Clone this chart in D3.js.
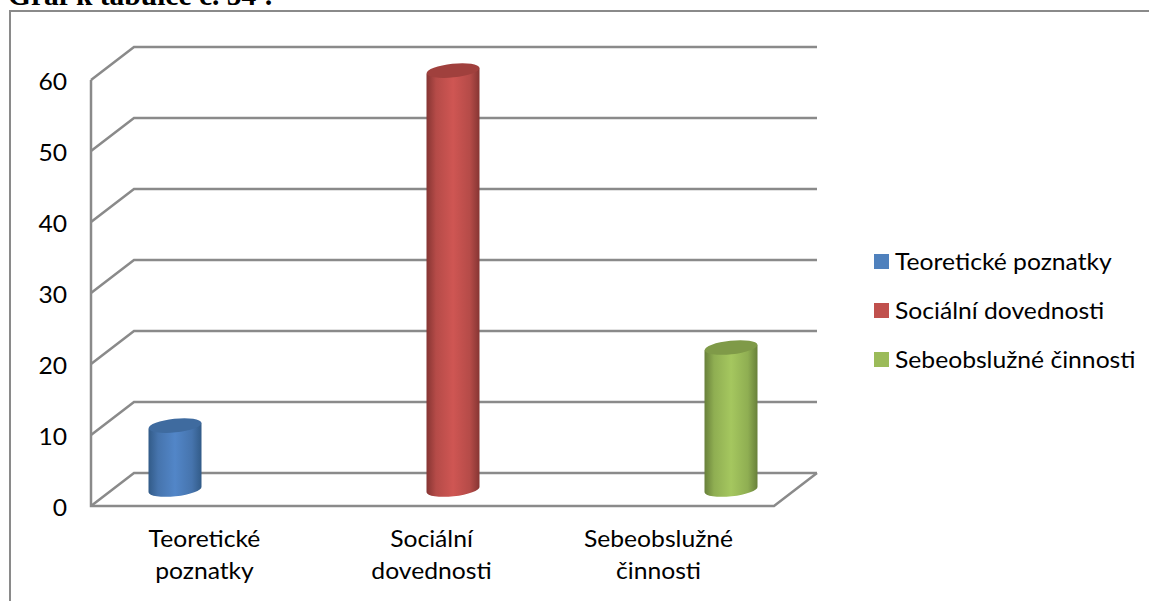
<!DOCTYPE html>
<html>
<head>
<meta charset="utf-8">
<script src="https://cdn.jsdelivr.net/npm/d3@7"></script>
<style>
  html, body { margin: 0; padding: 0; background: #fff; overflow: hidden; }
  text { font-family: Lato, "Open Sans", sans-serif; fill: #000; }
</style>
</head>
<body>
<svg id="chart-container"></svg>
<script>
// Values per category
const categories = [["Teoretické", "poznatky"], ["Sociální", "dovednosti"], ["Sebeobslužné", "činnosti"]];
const seriesNames = ["Teoretické poznatky", "Sociální dovednosti", "Sebeobslužné činnosti"];
const values = [9, 59, 20];
const yTicks = [0, 10, 20, 30, 40, 50, 60];
const heading = "Graf k tabulce č. 54 :";

// Colors: [edge of the cylinder, shoulder, middle of the cylinder, top cap, legend key]
const colors = [
  ["#325b88", "#4674ad", "#5286c8", "#3f6b9f", "#4f81bd"],
  ["#863533", "#b54b48", "#cf5653", "#a0403d", "#c0504d"],
  ["#68803a", "#8fae52", "#a5c75f", "#7f9a48", "#9bbb59"]
];

const svgWidth = 1149;
const svgHeight = 601;
const gridColor = "#8a8a8a";
const depth = { x: 43, y: -33 };
const floorRight = 774;
const barWidth = 53;
const capRx = 26.5;
const capRy = 6.8;
const capTilt = -6;
const labelSize = "23.5px";
const textStretch = "scale(1.05,1)";

const svg = d3.select("#chart-container")
  .attr("width", svgWidth)
  .attr("height", svgHeight)
  .style("display", "block");

// Scales
const xScale = d3.scaleBand()
  .domain(categories.map(d => d.join(" ")))
  .range([91, 772]);

const offsetScale = d3.scalePoint()
  .domain(seriesNames)
  .range([-51, 51]);

const yScale = d3.scaleLinear()
  .domain([0, 60])
  .range([506, 80]);

// Gradients for the cylinder walls
const defs = svg.append("defs");
colors.forEach((c, i) => {
  const grad = defs.append("linearGradient").attr("id", "wall" + i);
  [[0, 0], [18, 1], [50, 2], [82, 1], [100, 0]].forEach(s => {
    grad.append("stop").attr("offset", s[0] + "%").attr("stop-color", c[s[1]]);
  });
});

// Outer frame and heading
svg.append("path")
  .attr("d", "M10,601V11H1149")
  .attr("fill", "none")
  .attr("stroke", gridColor)
  .attr("stroke-width", 2);

svg.append("text")
  .attr("x", 8)
  .attr("y", 5)
  .style("font-family", "'Liberation Serif', serif")
  .style("font-weight", "bold")
  .style("font-size", "29.5px")
  .text(heading);

// Walls and floor
const grid = svg.append("g")
  .attr("fill", "none")
  .attr("stroke", gridColor)
  .attr("stroke-width", 2.5);

grid.selectAll("path")
  .data(yTicks)
  .enter().append("path")
  .attr("d", d => {
    const y = yScale(d);
    return `M91,${y}L${91 + depth.x},${y + depth.y}H${floorRight + depth.x}`;
  });

grid.append("path")
  .attr("d", `M91,${yScale(60)}V${yScale(0)}H${floorRight}L${floorRight + depth.x},${yScale(0) + depth.y}`);

// Y labels
svg.selectAll(".y-label")
  .data(yTicks)
  .enter().append("text")
  .attr("class", "y-label")
  .attr("text-anchor", "end")
  .attr("transform", d => `translate(67,${yScale(d) + 10}) ${textStretch}`)
  .style("font-size", labelSize)
  .text(d => d);

// Cylinders, standing in the middle of the floor depth
const bars = svg.selectAll(".bar")
  .data(values)
  .enter().append("g")
  .attr("class", "bar")
  .attr("transform", (d, i) => {
    const cx = xScale(categories[i].join(" ")) + xScale.bandwidth() / 2 + offsetScale(seriesNames[i]) + depth.x / 2;
    return `translate(${cx},${depth.y / 2})`;
  });

bars.append("path")
  .attr("fill", (d, i) => `url(#wall${i})`)
  .attr("d", d => {
    const rad = capTilt * Math.PI / 180;
    const dy = barWidth / 2 * Math.tan(rad);
    const top = yScale(d);
    const bottom = yScale(0);
    return `M${-capRx},${top - dy}L${capRx},${top + dy}` +
      `L${capRx},${bottom + dy}A${capRx},${capRy} ${capTilt} 0 1 ${-capRx},${bottom - dy}Z`;
  });

bars.append("ellipse")
  .attr("rx", capRx)
  .attr("ry", capRy)
  .attr("fill", (d, i) => colors[i][3])
  .attr("transform", d => `translate(0,${yScale(d)}) rotate(${capTilt})`);

// Category labels
const catLabels = svg.selectAll(".cat-label")
  .data(categories)
  .enter().append("text")
  .attr("class", "cat-label")
  .attr("text-anchor", "middle")
  .style("font-size", labelSize)
  .attr("transform", d => `translate(${xScale(d.join(" ")) + xScale.bandwidth() / 2},0) ${textStretch}`);

catLabels.selectAll("tspan")
  .data(d => d)
  .enter().append("tspan")
  .attr("x", 0)
  .attr("y", (d, i) => 547.5 + i * 32)
  .text(d => d);

// Legend
const legend = svg.selectAll(".legend")
  .data(seriesNames)
  .enter().append("g")
  .attr("class", "legend")
  .attr("transform", (d, i) => `translate(874,${254 + i * 49})`);

legend.append("rect")
  .attr("width", 15)
  .attr("height", 15)
  .attr("fill", (d, i) => colors[i][4]);

legend.append("text")
  .attr("transform", `translate(21,16) ${textStretch}`)
  .style("font-size", labelSize)
  .text(d => d);
</script>
</body>
</html>
